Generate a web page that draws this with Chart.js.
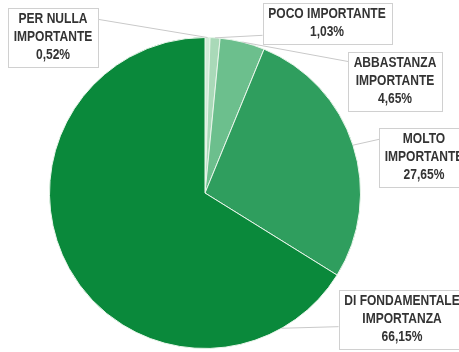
<!DOCTYPE html>
<html>
<head>
<meta charset="utf-8">
<script src="https://cdn.jsdelivr.net/npm/chart.js@4"></script>
<style>
    body { margin: 0; background: #ffffff; }
    #wrap { width: 459px; height: 352px; position: relative; }
</style>
</head>
<body>
<div id="wrap"><canvas id="chart" width="459" height="352"></canvas></div>
<script>
// data
const categories = [
    ["PER NULLA", "IMPORTANTE"],
    ["POCO IMPORTANTE"],
    ["ABBASTANZA", "IMPORTANTE"],
    ["MOLTO", "IMPORTANTE"],
    ["DI FONDAMENTALE", "IMPORTANZA"]
];
const values = [0.52, 1.03, 4.65, 27.65, 66.15];
const sliceColors = ["#d3ecd9", "#a9d9b8", "#6cbf8d", "#2f9e5e", "#0a893b"];

// callout box centres, where the leader leaves the slice (fraction of the slice)
// and where it meets the box edge (fraction of the box height)
const calloutPos = [
    { x: 53, y: 37, at: 0.5, ay: 0.2 },
    { x: 327, y: 23, at: 0.5, ay: 0.8 },
    { x: 395, y: 81, at: 0.5, ay: 0.17 },
    { x: 424, y: 157, at: 0.5, ay: 0.2 },
    { x: 402, y: 319, at: 0.12, ay: 0.63 }
];

function fmt(v) {
    return v.toFixed(2).replace(".", ",") + "%";
}

const squeeze = 0.86; // narrow the bold face a bit, like the original

const calloutPlugin = {
    id: "callouts",
    afterDraw(chart) {
        let ctx = chart.ctx;
        let meta = chart.getDatasetMeta(0);
        ctx.save();
        ctx.font = "bold 14px 'Liberation Sans', Arial, sans-serif";
        ctx.textAlign = "center";
        ctx.textBaseline = "middle";
        const lineH = 18;
        meta.data.forEach((arc, i) => {
            let p = calloutPos[i];
            let lines = categories[i].concat([fmt(values[i])]);
            let w = 0;
            lines.forEach(l => { w = Math.max(w, ctx.measureText(l).width * squeeze); });
            w += 11;
            let h = lines.length * lineH + 5;
            let left = p.x - w / 2, top = p.y - h / 2;

            // leader line
            let a = arc.startAngle + (arc.endAngle - arc.startAngle) * p.at;
            let ex = arc.x + Math.cos(a) * arc.outerRadius;
            let ey = arc.y + Math.sin(a) * arc.outerRadius;
            let bx = ex < left ? left : left + w;
            let by = top + h * p.ay;
            ctx.strokeStyle = "#c9c9c9";
            ctx.lineWidth = 1;
            ctx.beginPath();
            ctx.moveTo(ex, ey);
            ctx.lineTo(bx, by);
            ctx.stroke();

            // box
            ctx.fillStyle = "#ffffff";
            ctx.fillRect(left, top, w, h);
            ctx.strokeStyle = "#d0d0d0";
            ctx.strokeRect(Math.round(left) + 0.5, Math.round(top) + 0.5, Math.round(w), Math.round(h));

            ctx.fillStyle = "#333333";
            lines.forEach((l, k) => {
                let ty = top + 3 + lineH * k + lineH / 2;
                ctx.save();
                ctx.translate(p.x, ty);
                ctx.scale(squeeze, 1);
                ctx.fillText(l, 0, 0);
                ctx.restore();
            });
        });
        ctx.restore();
    }
};

window.onload = function () {
    let ctx = document.getElementById("chart");
    let chart = new Chart(ctx, {
        type: "pie",
        data: {
            labels: categories,
            datasets: [
                {
                    data: values,
                    backgroundColor: sliceColors,
                    borderColor: "#e8f5ea",
                    borderWidth: 1
                }
            ]
        },
        options: {
            responsive: false,
            animation: false,
            layout: { padding: { left: 0, right: 49, top: 37, bottom: 3 } },
            plugins: {
                legend: { display: false },
                tooltip: { enabled: false }
            }
        },
        plugins: [calloutPlugin]
    });
}
</script>
</body>
</html>
